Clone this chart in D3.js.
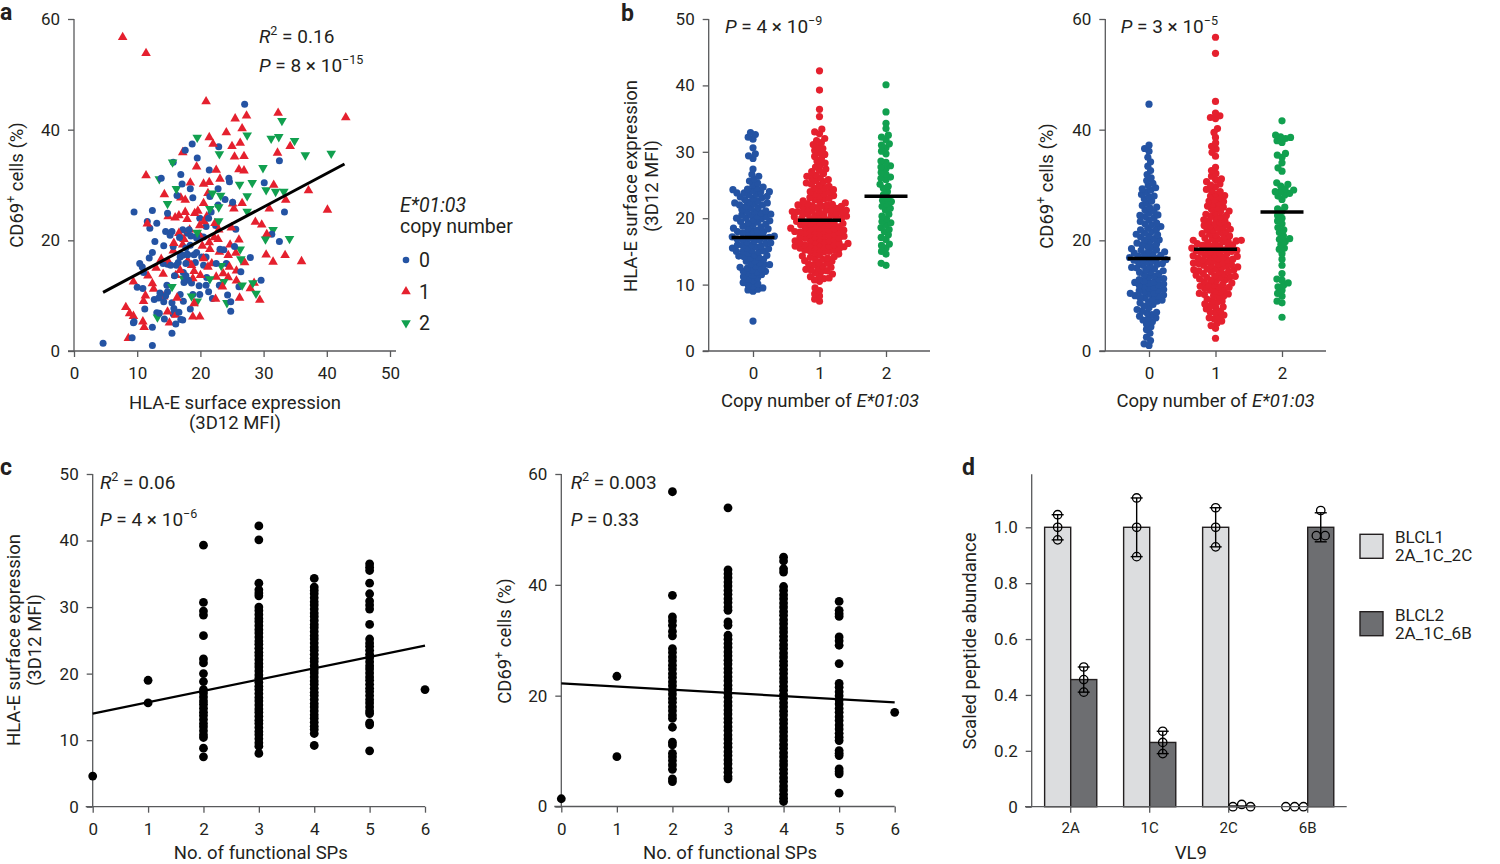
<!DOCTYPE html>
<html><head><meta charset="utf-8">
<script src="https://cdn.jsdelivr.net/npm/d3@7"></script>
<style>
body{margin:0;background:#fff}
svg{display:block}
text{font-family:Roboto,'Noto Sans',Arial,sans-serif;fill:#231f20}
</style></head>
<body><svg width="1500" height="864"></svg>
<script>
// ---------------- DATA ----------------
// Panel a: [HLA-E MFI, CD69+ %] per E*01:03 copy number
const aCopy0 = [[27.0,44.6],[18.7,37.4],[17.6,36.3],[22.9,36.9],[19.5,34.9],[15.7,34.1],[32.5,34.4],[21.4,32.7],[16.9,31.9],[13.8,31.2],[24.5,31.2],[24.6,30.6],[17.1,30.2],[30.1,30.4],[18.4,29.3],[22.8,29.3],[16.3,28.1],[18.8,27.7],[21.5,27.9],[23.9,27.4],[25.1,26.9],[22.8,26.4],[9.5,25.1],[12.4,25.4],[21.7,25.1],[33.3,25.1],[14.8,24.9],[19.9,24.0],[21.3,24.0],[11.6,23.4],[13.1,23.1],[12.0,22.2],[20.9,22.5],[22.4,22.7],[25.6,22.0],[14.5,21.6],[15.2,20.9],[17.2,21.9],[17.9,21.3],[18.5,20.8],[19.4,20.7],[19.9,20.8],[16.7,20.5],[31.3,21.1],[32.5,19.8],[12.8,19.8],[14.2,19.0],[15.7,18.9],[23.1,18.4],[23.7,18.3],[25.4,18.9],[12.4,17.8],[16.8,17.0],[17.2,17.3],[17.9,17.5],[19.4,17.8],[20.2,17.0],[20.9,17.0],[27.9,16.9],[10.4,15.8],[10.8,15.2],[11.9,16.8],[14.1,15.8],[14.8,15.7],[15.3,15.5],[16.2,15.5],[20.5,15.5],[22.5,15.8],[24.1,15.8],[11.0,14.2],[26.4,14.3],[17.3,14.2],[17.7,13.6],[18.1,12.8],[18.6,12.3],[19.8,11.8],[20.9,11.9],[23.0,11.9],[26.1,11.6],[29.6,12.8],[10.0,11.5],[10.9,11.3],[14.7,11.9],[13.6,10.5],[14.8,10.7],[21.3,10.7],[16.8,10.2],[18.8,10.2],[19.9,10.2],[24.3,10.1],[12.7,9.3],[14.2,8.9],[15.5,8.7],[21.9,9.5],[24.8,8.9],[11.2,7.6],[13.1,6.9],[13.5,6.8],[15.8,7.7],[15.7,6.7],[24.8,7.2],[14.3,5.8],[16.9,5.7],[17.2,5.6],[9.5,5.3],[16.1,4.9],[12.4,4.3],[15.5,3.2],[9.2,2.4],[4.6,1.4],[12.4,1.0],[9.4,5.1],[15.5,21.6],[18.2,21.9],[19.4,20.4],[20.5,20.6],[17.7,18.6],[18.4,19.1],[16.9,17.4],[18.0,17.4],[19.0,17.4],[16.5,16.0],[17.7,15.8],[19.2,16.0],[15.9,13.6],[17.4,12.4],[21.0,13.3],[13.4,9.6],[14.5,10.0],[17.3,9.0],[16.6,7.0],[18.4,7.6]];
const aCopy1 = [[7.7,56.7],[11.4,53.8],[20.9,45.1],[32.3,43.0],[43.0,42.2],[25.5,42.0],[27.3,42.5],[26.6,40.2],[24.1,39.5],[21.4,38.6],[25.0,37.0],[26.3,37.6],[22.0,37.4],[34.2,37.0],[17.2,35.9],[32.2,35.8],[25.4,35.1],[26.9,35.2],[19.4,33.3],[26.1,32.8],[26.9,32.6],[22.5,32.7],[11.4,31.7],[21.4,30.5],[18.4,30.4],[23.1,31.1],[20.5,30.2],[31.6,30.0],[37.1,29.0],[14.3,28.3],[21.2,28.5],[16.9,27.7],[17.6,27.3],[20.5,26.7],[33.5,27.3],[25.1,26.6],[26.6,26.7],[30.9,25.7],[40.1,25.5],[25.3,25.7],[19.6,25.3],[14.9,24.3],[16.0,24.1],[16.6,24.5],[17.6,25.1],[11.6,23.0],[19.1,24.9],[21.0,24.3],[17.9,23.8],[28.7,23.3],[29.7,22.8],[24.9,22.3],[30.5,21.1],[22.2,20.5],[22.8,20.2],[19.8,21.0],[21.4,19.6],[17.4,20.2],[17.2,19.2],[15.7,18.1],[21.5,18.4],[23.0,17.9],[24.4,17.3],[25.6,17.7],[30.4,17.4],[33.4,17.3],[31.5,16.1],[36.0,16.2],[13.8,16.6],[14.9,16.2],[20.5,16.7],[18.6,15.5],[21.2,15.2],[16.8,14.6],[16.1,13.7],[11.7,13.6],[14.1,13.9],[18.8,13.1],[20.0,13.7],[22.5,13.4],[24.4,13.3],[25.7,12.7],[28.5,12.3],[12.4,12.2],[9.4,12.5],[23.5,11.6],[27.9,11.3],[11.3,10.0],[14.2,9.8],[16.3,9.6],[22.4,9.4],[26.2,9.6],[29.4,9.2],[19.0,8.6],[8.2,7.9],[11.0,9.0],[8.8,6.8],[9.4,6.3],[14.8,7.1],[16.1,6.5],[18.8,6.2],[19.9,6.2],[10.9,5.3],[11.1,4.3],[15.1,5.1],[8.6,2.3],[12.6,11.2],[18.0,16.3],[21.8,15.8],[24.6,15.2],[25.7,14.5],[15.8,19.5],[16.6,21.3],[18.3,21.9],[19.9,22.7],[20.6,23.4],[22.3,23.1],[22.9,21.9],[24.7,19.2],[26.1,20.1],[20.3,19.0],[19.0,14.4],[23.6,14.0],[13.0,15.0],[27.0,16.0]];
const aCopy2 = [[19.5,38.6],[27.4,39.0],[31.2,38.4],[32.4,38.7],[32.9,41.6],[34.9,38.0],[36.6,35.4],[40.7,35.7],[23.0,35.6],[15.6,34.1],[29.9,33.1],[13.5,31.1],[16.2,29.3],[26.2,30.1],[28.2,30.4],[30.4,29.1],[31.9,28.8],[33.2,28.8],[27.4,28.0],[21.9,28.5],[23.2,28.1],[14.8,26.6],[22.9,26.0],[27.4,25.2],[19.5,21.4],[22.9,23.5],[31.5,21.9],[34.1,20.3],[30.3,20.2],[26.3,18.4],[26.4,16.6],[17.3,13.1],[15.5,11.6],[21.5,13.0],[23.7,12.5],[26.6,11.9],[28.3,12.3],[28.8,10.4],[24.2,8.7],[18.6,9.9],[19.5,9.0],[13.2,6.1],[23.3,15.4],[21.5,25.7]];
const aFitX = [4.6, 42.8];
const aFitY = [10.6, 33.8];
const aStats = ["0.16", "8", "15"];

// Panel b: values by copy number (0,1,2)
const bCopies = [0, 1, 2];
const bHla0 = [4.5,9.0,9.2,9.5,9.8,10.1,10.3,10.6,10.8,11.0,11.2,11.4,11.7,11.9,12.0,12.2,12.5,12.6,12.8,13.0,13.1,13.3,13.5,13.6,13.8,14.0,14.1,14.3,14.4,14.5,14.7,14.9,15.0,15.1,15.2,15.4,15.5,15.7,15.8,15.9,16.0,16.2,16.3,16.4,16.6,16.7,16.8,16.9,17.0,17.1,17.1,17.2,17.3,17.4,17.5,17.7,17.8,18.0,18.1,18.2,18.4,18.5,18.7,18.8,19.0,19.1,19.3,19.4,19.6,19.8,19.9,20.0,20.2,20.3,20.5,20.6,20.8,21.0,21.1,21.3,21.5,21.6,21.8,22.0,22.1,22.3,22.4,22.6,22.8,23.0,23.1,23.3,23.5,23.6,23.8,24.0,24.1,24.3,24.5,24.7,25.0,25.3,25.6,25.9,26.3,26.6,27.4,29.0,29.4,29.7,30.6,31.9,32.2,32.6,32.9,22.0,22.3,23.8,24.0,20.5,18.5,15.0,14.2,13.0,12.4,11.5,10.0,9.3,21.0,19.5,20.0,18.0,23.2,24.4,15.5,16.0,12.0];
const bHla1 = [7.5,7.8,8.3,8.6,9.1,9.5,10.5,10.7,10.9,11.0,11.2,11.3,11.6,11.8,12.0,12.1,12.3,12.5,12.6,12.8,13.0,13.1,13.3,13.5,13.6,13.8,13.9,14.0,14.2,14.3,14.5,14.6,14.8,14.9,15.0,15.1,15.2,15.3,15.4,15.5,15.6,15.7,15.7,15.8,15.9,16.0,16.1,16.2,16.2,16.3,16.4,16.5,16.6,16.7,16.8,16.9,17.0,17.0,17.1,17.2,17.3,17.4,17.5,17.6,17.7,17.8,17.9,18.0,18.0,18.1,18.2,18.3,18.4,18.5,18.6,18.7,18.8,18.9,19.0,19.0,19.1,19.2,19.3,19.4,19.5,19.6,19.7,19.8,19.9,20.0,20.0,20.1,20.2,20.3,20.4,20.5,20.6,20.7,20.8,20.9,21.0,21.0,21.1,21.2,21.3,21.4,21.5,21.6,21.7,21.8,21.9,22.0,22.0,22.1,22.2,22.3,22.5,22.6,22.8,22.9,23.0,23.1,23.3,23.4,23.6,23.7,23.9,24.0,24.2,24.3,24.5,24.6,24.8,25.0,25.1,25.3,25.5,25.6,25.8,26.0,26.1,26.3,26.5,26.7,27.0,27.2,27.4,27.7,28.0,28.3,28.6,29.0,29.3,29.6,29.9,30.2,30.5,30.8,31.1,31.4,31.7,32.0,32.7,33.0,33.4,35.3,36.4,39.3,42.2,15.2,15.8,16.6,17.3,17.9,18.5,19.2,19.9,20.5,21.2,21.8,16.0,18.2,20.9,14.1,13.2,12.2];
const bHla2 = [12.9,13.2,14.6,15.0,15.5,15.9,16.1,16.8,17.1,17.5,18.0,18.3,18.6,19.0,19.3,19.5,19.9,20.3,20.6,21.2,21.5,21.8,22.2,22.5,22.7,23.0,23.5,24.0,24.5,24.8,25.1,25.8,26.0,26.2,26.6,26.9,27.5,27.7,27.9,28.4,28.6,29.7,30.1,30.6,31.0,31.2,31.8,32.2,32.5,33.5,34.3,36.0,40.1];
const bHlaMedian = [17.1, 19.7, 23.3];
const bCd0 = [1.0,1.3,1.9,2.5,3.2,3.9,4.4,4.9,5.3,5.6,5.9,6.3,6.6,6.9,7.2,7.5,7.8,8.1,8.4,8.7,9.0,9.2,9.5,9.7,9.9,10.1,10.3,10.5,10.7,10.9,11.1,11.3,11.5,11.7,11.9,12.1,12.3,12.5,12.7,12.9,13.1,13.4,13.6,13.8,14.0,14.3,14.5,14.7,14.9,15.1,15.3,15.5,15.7,15.8,16.0,16.2,16.4,16.6,16.7,16.9,17.1,17.3,17.5,17.7,17.9,18.1,18.3,18.5,18.8,19.0,19.3,19.5,19.8,20.0,20.3,20.6,20.8,21.1,21.3,21.6,21.9,22.2,22.5,22.8,23.1,23.4,23.7,24.0,24.3,24.6,24.9,25.2,25.5,25.9,26.3,26.7,27.1,27.5,27.9,28.3,28.7,29.1,29.5,29.9,30.3,30.8,31.3,31.9,32.6,33.4,34.2,35.0,36.1,36.6,37.2,44.6,9.6,10.0,11.0,12.0,13.0,14.2,15.0,16.1,16.5,17.0,17.6,18.2,19.2,20.1,21.0,22.0,23.0,24.5,26.0,28.0,29.3,12.4,10.4,8.9,7.0,6.0];
const bCd1 = [2.3,4.1,4.6,5.0,5.4,5.8,6.2,6.5,6.9,7.2,7.6,7.9,8.2,8.5,8.8,9.1,9.4,9.7,9.9,10.2,10.4,10.6,10.9,11.1,11.3,11.5,11.7,11.9,12.1,12.3,12.5,12.7,12.9,13.0,13.2,13.4,13.5,13.7,13.9,14.0,14.2,14.4,14.5,14.7,14.9,15.0,15.2,15.3,15.5,15.6,15.8,15.9,16.1,16.2,16.4,16.5,16.7,16.8,17.0,17.1,17.3,17.4,17.6,17.7,17.9,18.0,18.2,18.3,18.5,18.6,18.8,18.9,19.1,19.2,19.4,19.5,19.7,19.8,20.0,20.0,20.2,20.4,20.6,20.8,21.0,21.2,21.4,21.6,21.8,22.0,22.2,22.4,22.6,22.8,23.0,23.2,23.5,23.7,24.0,24.2,24.5,24.7,25.0,25.3,25.6,25.9,26.2,26.5,26.8,27.1,27.4,27.7,28.0,28.4,28.8,29.2,29.7,30.2,30.6,31.1,31.6,32.1,32.6,33.2,35.2,35.9,36.5,37.0,37.6,38.6,39.5,40.2,42.0,42.2,42.5,43.0,45.1,53.8,56.7,6.0,7.0,8.0,9.0,10.0,11.0,12.0,12.8,13.6,14.3,14.8,15.4,16.0,16.6,17.2,17.8,18.4,19.0,19.6,20.3,21.1,21.9,22.7,23.6,24.4,25.2,26.0,27.0,28.1,29.0,30.0,31.0,19.9,18.1,16.9,15.7,14.6,13.3,11.6,10.3];
const bCd2 = [41.6,39.0,38.7,38.6,38.4,38.0,37.7,35.7,35.4,35.0,34.0,33.1,32.5,30.4,30.1,29.8,29.3,29.1,28.8,28.8,28.5,28.2,28.0,27.4,26.0,25.7,25.2,24.5,24.0,23.5,23.0,22.3,21.9,21.4,20.8,20.3,20.2,19.8,19.3,18.6,18.4,17.6,16.6,15.5,14.0,13.0,12.8,12.3,11.9,11.6,11.0,10.4,9.9,9.0,8.7,6.1];
const bCdMedian = [16.7, 18.4, 25.1];
const bStats = [["4", "9"], ["3", "5"]];

// Panel c: values by number of functional SPs (0..6)
const cSPs = [0, 1, 2, 3, 4, 5, 6];
const cHlaSp0 = [4.6];
const cHlaSp1 = [19.0, 15.6];
const cHlaSp2 = [39.3,30.7,29.4,28.8,25.7,22.2,21.6,20.0,18.8,17.6,17.1,16.5,15.9,15.4,14.8,14.2,13.7,13.1,12.5,12.0,11.4,10.8,10.4,8.8,7.5];
const cHlaSp3 = [42.2,40.1,33.6,32.6,32.1,31.7,30.0,29.5,28.9,28.3,27.8,27.2,26.6,26.1,25.5,24.9,24.4,23.8,23.2,22.7,22.1,21.5,21.0,20.4,19.8,19.3,18.7,18.1,17.6,17.0,16.4,15.9,15.3,14.7,14.2,13.6,13.0,12.5,11.9,11.3,10.8,10.2,9.6,9.1,8.0];
const cHlaSp4 = [34.3,33.0,32.5,32.0,31.4,30.8,30.3,29.7,29.1,28.6,28.0,27.4,26.9,26.3,25.7,25.2,24.6,24.0,23.5,22.9,22.3,21.8,21.2,20.6,20.1,19.5,18.9,18.4,17.8,17.2,16.7,16.1,15.5,15.0,14.4,13.8,13.3,12.7,12.1,11.6,11.0,9.2];
const cHlaSp5 = [36.5,36.0,35.5,33.6,32.0,30.9,30.3,29.7,27.4,25.2,24.6,24.1,23.5,22.9,22.4,21.8,21.2,20.7,20.1,19.5,19.0,18.4,17.8,17.3,16.7,16.1,15.6,15.0,14.4,14.0,12.6,12.3,8.4];
const cHlaSp6 = [17.6];
const cHlaFitY = [14.0, 24.2];
const cCdSp0 = [1.4];
const cCdSp1 = [23.5, 9.0];
const cCdSp2 = [56.8,38.1,34.2,33.5,32.7,31.6,30.8,28.5,27.8,27.0,26.3,25.5,24.8,24.0,23.3,22.5,21.8,21.0,20.3,19.5,18.8,18.0,17.3,16.5,15.9,14.3,11.6,11.1,9.6,9.0,8.3,7.5,6.7,5.0,4.5];
const cCdSp3 = [53.9,42.7,42.0,41.3,40.5,39.8,39.0,38.3,37.5,36.8,36.0,35.4,33.3,32.7,30.9,30.2,29.4,28.7,27.9,27.2,26.4,25.7,24.9,24.2,23.4,22.7,21.9,21.2,20.4,19.7,18.9,18.2,17.4,16.7,15.9,15.2,14.4,13.7,12.9,12.2,11.4,10.7,9.9,9.2,8.4,7.7,6.9,6.2,5.4,5.0];
const cCdSp4 = [45.0,44.3,42.9,42.3,39.7,39.0,38.2,37.5,36.7,36.0,35.2,34.5,33.7,33.0,32.2,31.5,30.7,30.0,29.2,28.5,27.7,27.0,26.2,25.5,24.7,24.0,23.2,22.5,21.7,21.0,20.2,19.5,18.7,18.0,17.2,16.5,15.7,15.0,14.2,13.5,12.7,12.0,11.2,10.5,9.7,9.0,8.2,7.5,6.7,6.0,5.2,4.5,3.7,3.0,2.2,1.5,0.9];
const cCdSp5 = [37.0,35.4,34.8,34.3,30.6,29.9,29.1,25.8,22.2,21.5,20.7,20.0,19.2,18.5,17.7,17.0,16.2,15.5,14.7,14.0,13.2,12.5,11.9,10.1,9.6,9.2,6.8,6.3,5.9,2.4];
const cCdSp6 = [17.0];
const cCdFitY = [22.2, 18.8];

// Panel d: scaled VL9 peptide abundance (3 replicates)
const dPeptides = ["2A", "1C", "2C", "6B"];
const dLines = ["BLCL1", "BLCL2"];
const dLineAlleles = ["2A_1C_2C", "2A_1C_6B"];
const dBlcl1 = [[1.045,1.0,0.955],[1.105,1.0,0.895],[1.07,1.0,0.93],[0,0,0]];
const dBlcl2 = [[0.50,0.455,0.41],[0.27,0.23,0.19],[0,0.008,0],[1.06,0.97,0.97]];

// ---------------- DRAWING ----------------
const FONT = "Roboto,'Noto Sans',Arial,sans-serif";
const AX = "#58595b", TXT = "#231f20";
const COL = ["#2453a3", "#e5202e", "#11a04f"];
const TS = 18.5; // title font size
const svg = d3.select("svg");

function rich(parent, x, y, parts, size, opts) {
  opts = opts || {};
  const t = parent.append("text").attr("x", x).attr("y", y)
    .attr("font-size", size).attr("text-anchor", opts.anchor || "start")
    .attr("font-family", FONT).attr("fill", TXT);
  if (opts.rotate) t.attr("transform", `rotate(-90,${x},${y})`);
  if (opts.bold) t.attr("font-weight", "bold");
  let cur = 0;
  parts.forEach(p => {
    const s = t.append("tspan").text(p.t);
    if (p.i) s.attr("font-style", "italic");
    const target = p.sup ? -size * 0.42 : 0;
    if (p.sup) s.attr("font-size", size * 0.66);
    if (target !== cur) { s.attr("dy", target - cur); cur = target; }
  });
  return t;
}
function styleAxis(ag, fs) {
  ag.select(".domain").remove();
  ag.attr("font-family", FONT);
  ag.selectAll(".tick line").attr("stroke", AX).attr("stroke-width", 1.3);
  ag.selectAll(".tick text").attr("fill", TXT).attr("font-size", fs);
}
function axisLine(g, x1, y1, x2, y2) {
  g.append("line").attr("x1", x1).attr("y1", y1).attr("x2", x2).attr("y2", y2)
    .attr("stroke", AX).attr("stroke-width", 1.3);
}
function drawYAxis(g, y, x0, ticks, fmt, fs) {
  const ag = g.append("g").attr("transform", `translate(${x0},0)`)
    .call(d3.axisLeft(y).tickValues(ticks).tickSize(6).tickPadding(8).tickFormat(fmt));
  styleAxis(ag, fs || 17);
  axisLine(g, x0, y.range()[0], x0, y.range()[1]);
}
function drawXAxis(g, x, y0, ticks, fmt, xStart, xEnd, fs) {
  const a = d3.axisBottom(x).tickSize(6).tickPadding(10);
  if (ticks) a.tickValues(ticks);
  if (fmt) a.tickFormat(fmt);
  const ag = g.append("g").attr("transform", `translate(0,${y0})`).call(a);
  styleAxis(ag, fs || 17);
  axisLine(g, xStart, y0, xEnd, y0);
}
function dodge(vals, y, D) {
  const pts = vals.map(v => ({ v, y: y(v), x: 0 })).sort((a, b) => b.y - a.y);
  const placed = [];
  pts.forEach(p => {
    const iv = [];
    placed.forEach(q => {
      const dy = Math.abs(q.y - p.y);
      if (dy < D) { const dx = Math.sqrt(D * D - dy * dy); iv.push([q.x - dx, q.x + dx]); }
    });
    const cands = [0];
    iv.forEach(([a, b]) => cands.push(a, b));
    cands.sort((a, b) => Math.abs(a) - Math.abs(b) || a - b);
    for (const c of cands) {
      if (iv.every(([a, b]) => c <= a + 1e-6 || c >= b - 1e-6)) { p.x = c; break; }
    }
    placed.push(p);
  });
  return pts;
}
const fmtInt = d3.format("d");

// ===== Panel a =====
{
  const g = svg.append("g");
  const x = d3.scaleLinear().domain([0, 50]).range([74, 390]);
  const y = d3.scaleLinear().domain([0, 60]).range([351, 19]);
  drawYAxis(g, y, x(0), [0, 20, 40, 60], fmtInt);
  drawXAxis(g, x, y(0), [0, 10, 20, 30, 40, 50], fmtInt, x(0) - 6, x(50) + 6);
  const triUp = d3.symbol().type(d3.symbolTriangle).size(40)();
  const groups = [aCopy0, aCopy1, aCopy2];
  const marks = g.append("g");
  const all = [];
  groups.forEach((arr, gi) => arr.forEach((d, i) => all.push({ d, gi, k: i * 7 + gi * 3 })));
  all.sort((a, b) => (a.k % 11) - (b.k % 11));
  all.forEach(o => {
    const cx = x(o.d[0]), cy = y(o.d[1]);
    if (o.gi === 0) marks.append("circle").attr("cx", cx).attr("cy", cy).attr("r", 3.5).attr("fill", COL[0]);
    else marks.append("path").attr("d", triUp).attr("fill", COL[o.gi])
      .attr("transform", `translate(${cx},${cy})` + (o.gi === 2 ? " rotate(180)" : ""));
  });
  g.append("line").attr("x1", x(aFitX[0])).attr("y1", y(aFitY[0]))
    .attr("x2", x(aFitX[1])).attr("y2", y(aFitY[1])).attr("stroke", "#000").attr("stroke-width", 3);
  rich(g, 259, 43, [{ t: "R", i: true }, { t: "2", sup: true }, { t: " = " + aStats[0] }], 19);
  rich(g, 259, 72, [{ t: "P", i: true }, { t: " = " + aStats[1] + " × 10" }, { t: "−" + aStats[2], sup: true }], 19);
  rich(g, 400, 212, [{ t: "E*01:03", i: true }], 19.5);
  rich(g, 400, 233, [{ t: "copy number" }], 19.5);
  bCopies.forEach((c, i) => {
    const ly = 260 + i * 31.5;
    if (i === 0) g.append("circle").attr("cx", 406).attr("cy", ly).attr("r", 3.3).attr("fill", COL[0]);
    else g.append("path").attr("d", triUp).attr("fill", COL[i])
      .attr("transform", `translate(406,${ly})` + (i === 2 ? " rotate(180)" : ""));
    rich(g, 419, ly + 7, [{ t: String(c) }], 19.5);
  });
  rich(g, 23, 185, [{ t: "CD69" }, { t: "+", sup: true }, { t: " cells (%)" }], TS, { rotate: true, anchor: "middle" });
  rich(g, 235, 409, [{ t: "HLA-E surface expression" }], TS, { anchor: "middle" });
  rich(g, 235, 429, [{ t: "(3D12 MFI)" }], TS, { anchor: "middle" });
  rich(g, 0, 20, [{ t: "a" }], 23, { bold: true });
}

// ===== Panel b =====
function swarmPanel(opts) {
  const g = svg.append("g");
  const x = d3.scalePoint().domain(bCopies).range([opts.x0c, opts.x2c]);
  const y = d3.scaleLinear().domain([0, opts.ymax]).range([351, 19]);
  drawYAxis(g, y, opts.yx, opts.yticks, fmtInt);
  drawXAxis(g, x, y(0), bCopies, fmtInt, opts.yx - 6, opts.xEnd);
  opts.data.forEach((vals, i) => {
    const pts = dodge(vals, y, 5.2);
    g.append("g").selectAll("circle").data(pts).join("circle")
      .attr("cx", d => x(bCopies[i]) + d.x).attr("cy", d => d.y).attr("r", 3.6).attr("fill", COL[i]);
  });
  opts.medians.forEach((m, i) => {
    g.append("line").attr("x1", x(bCopies[i]) - 21.5).attr("x2", x(bCopies[i]) + 21.5)
      .attr("y1", y(m)).attr("y2", y(m)).attr("stroke", "#000").attr("stroke-width", 3.5);
  });
  rich(g, opts.px, 33, [{ t: "P", i: true }, { t: " = " + opts.stats[0] + " × 10" }, { t: "−" + opts.stats[1], sup: true }], 19);
  rich(g, opts.xtc, 407, [{ t: "Copy number of " }, { t: "E*01:03", i: true }], TS, { anchor: "middle" });
  opts.ytitle(g);
  return g;
}
{
  const g = swarmPanel({ x0c: 753, x2c: 886, yx: 708.7, xEnd: 930, ymax: 50, yticks: [0, 10, 20, 30, 40, 50],
    data: [bHla0, bHla1, bHla2], medians: bHlaMedian, px: 725, stats: bStats[0], xtc: 820,
    ytitle: gg => {
      rich(gg, 637, 186, [{ t: "HLA-E surface expression" }], TS, { rotate: true, anchor: "middle" });
      rich(gg, 658, 186, [{ t: "(3D12 MFI)" }], TS, { rotate: true, anchor: "middle" });
    } });
  rich(g, 621, 21, [{ t: "b" }], 23, { bold: true });
}
{
  swarmPanel({ x0c: 1149, x2c: 1282, yx: 1105.3, xEnd: 1326, ymax: 60, yticks: [0, 20, 40, 60],
    data: [bCd0, bCd1, bCd2], medians: bCdMedian, px: 1120.7, stats: bStats[1], xtc: 1215.5,
    ytitle: gg => rich(gg, 1053, 186, [{ t: "CD69" }, { t: "+", sup: true }, { t: " cells (%)" }], TS, { rotate: true, anchor: "middle" }) });
}

// ===== Panel c =====
function stripPanel(opts) {
  const g = svg.append("g");
  const x = d3.scaleLinear().domain([0, 6]).range([opts.x0, opts.x6]);
  const y = d3.scaleLinear().domain([0, opts.ymax]).range([opts.y0, 474]);
  drawYAxis(g, y, x(0), opts.yticks, fmtInt);
  drawXAxis(g, x, y(0), cSPs, fmtInt, x(0) - 7, x(6));
  opts.data.forEach((vals, i) => {
    g.append("g").selectAll("circle").data(vals).join("circle")
      .attr("cx", x(cSPs[i])).attr("cy", d => y(d)).attr("r", 4.4).attr("fill", "#000");
  });
  g.append("line").attr("x1", x(0)).attr("x2", x(6)).attr("y1", y(opts.fit[0])).attr("y2", y(opts.fit[1]))
    .attr("stroke", "#000").attr("stroke-width", 2.3);
  rich(g, opts.tx, 489, [{ t: "R", i: true }, { t: "2", sup: true }, { t: " = " + opts.r2 }], 19);
  rich(g, opts.tx, 526, opts.pparts, 19);
  rich(g, (x(0) + x(6)) / 2 + 2, 859, [{ t: "No. of functional SPs" }], TS, { anchor: "middle" });
  return g;
}
{
  const g = stripPanel({ x0: 92.7, x6: 425, y0: 806.7, ymax: 50, yticks: [0, 10, 20, 30, 40, 50],
    data: [cHlaSp0, cHlaSp1, cHlaSp2, cHlaSp3, cHlaSp4, cHlaSp5, cHlaSp6], fit: cHlaFitY,
    tx: 100, r2: "0.06", pparts: [{ t: "P", i: true }, { t: " = 4 × 10" }, { t: "−6", sup: true }] });
  rich(g, 20, 640, [{ t: "HLA-E surface expression" }], TS, { rotate: true, anchor: "middle" });
  rich(g, 41, 640, [{ t: "(3D12 MFI)" }], TS, { rotate: true, anchor: "middle" });
  rich(g, 0, 475, [{ t: "c" }], 23, { bold: true });
}
{
  const g = stripPanel({ x0: 561.3, x6: 894.7, y0: 806.5, ymax: 60, yticks: [0, 20, 40, 60],
    data: [cCdSp0, cCdSp1, cCdSp2, cCdSp3, cCdSp4, cCdSp5, cCdSp6], fit: cCdFitY,
    tx: 570.7, r2: "0.003", pparts: [{ t: "P", i: true }, { t: " = 0.33" }] });
  rich(g, 511, 641, [{ t: "CD69" }, { t: "+", sup: true }, { t: " cells (%)" }], TS, { rotate: true, anchor: "middle" });
}

// ===== Panel d =====
{
  const g = svg.append("g");
  const x = d3.scaleBand().domain(dPeptides).range([1031.2, 1347.2]);
  const y = d3.scaleLinear().domain([0, 1.19]).range([806.7, 474.2]);
  const bw = x.bandwidth() * 0.33;
  drawYAxis(g, y, 1031.7, [0, 0.2, 0.4, 0.6, 0.8, 1.0], d => d === 0 ? "0" : d3.format(".1f")(d), 17);
  const cx = p => x(p) + x.bandwidth() / 2;
  const fills = ["#dcdddf", "#6d6e71"];
  const series = [dBlcl1, dBlcl2];
  series.forEach((ser, si) => {
    ser.forEach((reps, pi) => {
      const m = d3.mean(reps), sd = d3.deviation(reps);
      const bx = si === 0 ? cx(dPeptides[pi]) - bw : cx(dPeptides[pi]);
      g.append("rect").attr("x", bx).attr("width", bw).attr("y", y(m)).attr("height", y(0) - y(m))
        .attr("fill", fills[si]).attr("stroke", "#231f20").attr("stroke-width", 1.4);
      const mx = bx + bw / 2;
      if (sd > 0.01) {
        g.append("line").attr("x1", mx).attr("x2", mx).attr("y1", y(m - sd)).attr("y2", y(m + sd)).attr("stroke", "#000").attr("stroke-width", 1.4);
        [m - sd, m + sd].forEach(v => g.append("line").attr("x1", mx - 6).attr("x2", mx + 6).attr("y1", y(v)).attr("y2", y(v)).attr("stroke", "#000").attr("stroke-width", 1.4));
      }
      const r = 4.2, D = 2 * r + 0.4;
      const pts = reps.map((v, k) => ({ v, k, py: y(v) }));
      const rows = [];
      pts.slice().sort((a, b) => a.py - b.py).forEach(p => {
        const row = rows.find(rw => Math.abs(rw[0].py - p.py) < D);
        if (row) row.push(p); else rows.push([p]);
      });
      rows.forEach(row => {
        row.sort((a, b) => a.k - b.k);
        row.forEach((p, j) => {
          g.append("circle").attr("cx", mx + (j - (row.length - 1) / 2) * D).attr("cy", p.py).attr("r", r)
            .attr("fill", "none").attr("stroke", "#000").attr("stroke-width", 1.3);
        });
      });
    });
  });
  drawXAxis(g, x, y(0), null, null, 1025, 1346.7, 15);
  rich(g, 976, 641, [{ t: "Scaled peptide abundance" }], TS, { rotate: true, anchor: "middle" });
  rich(g, 1190.8, 859, [{ t: "VL9" }], TS, { anchor: "middle" });
  rich(g, 962, 475, [{ t: "d" }], 23, { bold: true });
  dLines.forEach((nm, i) => {
    const ly = 534.3 + i * 77.4;
    g.append("rect").attr("x", 1360).attr("y", ly).attr("width", 23).attr("height", 24)
      .attr("fill", fills[i]).attr("stroke", "#231f20").attr("stroke-width", 1.4);
    rich(g, 1395, ly + 9, [{ t: nm }], 17);
    rich(g, 1395, ly + 27, [{ t: dLineAlleles[i] }], 17);
  });
}
</script></body></html>
